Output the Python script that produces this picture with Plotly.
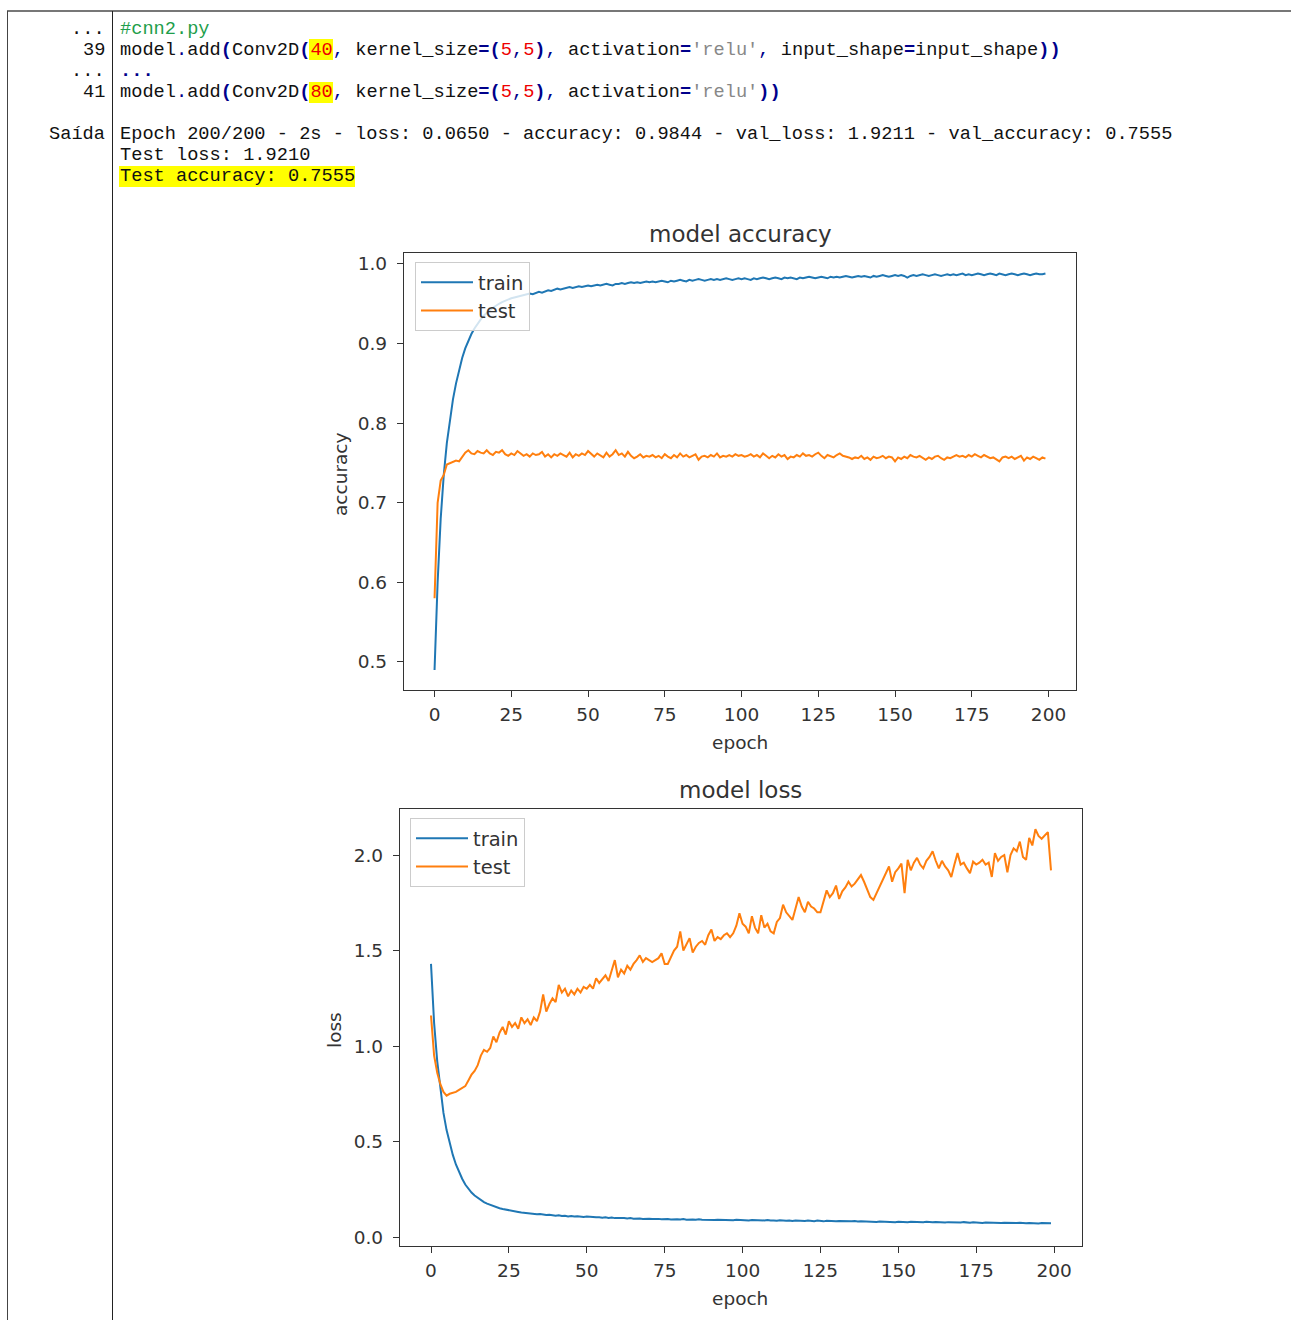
import plotly.graph_objects as go

# ---------------- data ----------------
epochs = list(range(200))

train_acc = [
    0.490, 0.600, 0.680, 0.735, 0.775, 0.805, 0.830, 0.850, 0.867, 0.882,
    0.894, 0.904, 0.912, 0.919, 0.925, 0.930, 0.935, 0.939, 0.942, 0.945,
    0.948, 0.950, 0.952, 0.954, 0.955, 0.957, 0.958, 0.959, 0.960, 0.961,
    0.962, 0.963, 0.962, 0.964, 0.965, 0.964, 0.966, 0.967, 0.966, 0.968,
    0.969, 0.968, 0.969, 0.970, 0.971, 0.970, 0.971, 0.972, 0.971, 0.972,
    0.973, 0.972, 0.973, 0.974, 0.973, 0.974, 0.975, 0.974, 0.973, 0.975,
    0.975, 0.976, 0.975, 0.976, 0.977, 0.976, 0.977, 0.976, 0.977, 0.978,
    0.977, 0.978, 0.977, 0.978, 0.979, 0.978, 0.977, 0.979, 0.978, 0.979,
    0.980, 0.979, 0.978, 0.980, 0.979, 0.980, 0.981, 0.980, 0.979, 0.980,
    0.981, 0.980, 0.981, 0.980, 0.981, 0.982, 0.981, 0.980, 0.981, 0.982,
    0.981, 0.982, 0.981, 0.980, 0.982, 0.981, 0.982, 0.983, 0.982, 0.981,
    0.982, 0.983, 0.982, 0.981, 0.983, 0.982, 0.983, 0.982, 0.981, 0.983,
    0.982, 0.983, 0.984, 0.983, 0.982, 0.983, 0.984, 0.983, 0.982, 0.984,
    0.983, 0.984, 0.983, 0.984, 0.985, 0.984, 0.983, 0.984, 0.985, 0.984,
    0.985, 0.984, 0.983, 0.985, 0.984, 0.985, 0.986, 0.985, 0.984, 0.985,
    0.986, 0.985, 0.986, 0.985, 0.983, 0.985, 0.986, 0.985, 0.986, 0.987,
    0.986, 0.985, 0.986, 0.987, 0.986, 0.985, 0.986, 0.987, 0.986, 0.987,
    0.986, 0.987, 0.988, 0.986, 0.987, 0.986, 0.987, 0.988, 0.987, 0.986,
    0.987, 0.988, 0.987, 0.986, 0.988, 0.987, 0.986, 0.987, 0.988, 0.987,
    0.986, 0.987, 0.988, 0.987, 0.986, 0.987, 0.988, 0.987, 0.987, 0.988,
]

test_acc = [
    0.580, 0.700, 0.728, 0.735, 0.748, 0.750, 0.752, 0.753, 0.752, 0.758,
    0.763, 0.766, 0.762, 0.761, 0.765, 0.763, 0.762, 0.766, 0.762, 0.760,
    0.764, 0.763, 0.766, 0.761, 0.759, 0.762, 0.760, 0.765, 0.762, 0.759,
    0.761, 0.758, 0.762, 0.760, 0.761, 0.764, 0.758, 0.761, 0.757, 0.761,
    0.759, 0.762, 0.760, 0.758, 0.763, 0.757, 0.761, 0.759, 0.762, 0.760,
    0.765, 0.761, 0.758, 0.762, 0.760, 0.757, 0.763, 0.758, 0.761, 0.766,
    0.760, 0.762, 0.758, 0.764, 0.759, 0.756, 0.758, 0.761, 0.757, 0.759,
    0.758, 0.760, 0.757, 0.759, 0.756, 0.761, 0.758, 0.756, 0.760, 0.757,
    0.762, 0.758, 0.760, 0.757, 0.759, 0.761, 0.754, 0.758, 0.759, 0.757,
    0.760, 0.758, 0.762, 0.757, 0.759, 0.758, 0.760, 0.758, 0.761, 0.759,
    0.760, 0.758, 0.759, 0.761, 0.758, 0.760, 0.757, 0.762, 0.759, 0.756,
    0.759, 0.757, 0.761, 0.758, 0.760, 0.755, 0.758, 0.757, 0.760, 0.758,
    0.762, 0.759, 0.760, 0.758, 0.761, 0.763, 0.759, 0.756, 0.760, 0.758,
    0.757, 0.760, 0.762, 0.759, 0.758, 0.757, 0.755, 0.757, 0.756, 0.759,
    0.755, 0.757, 0.754, 0.758, 0.756, 0.757, 0.759, 0.756, 0.758, 0.757,
    0.752, 0.757, 0.755, 0.758, 0.756, 0.760, 0.758, 0.757, 0.759, 0.756,
    0.754, 0.757, 0.755, 0.758, 0.759, 0.756, 0.754, 0.757, 0.756, 0.758,
    0.760, 0.758, 0.759, 0.757, 0.760, 0.758, 0.761, 0.759, 0.757, 0.760,
    0.758, 0.756, 0.757, 0.755, 0.752, 0.757, 0.758, 0.756, 0.758, 0.755,
    0.757, 0.759, 0.753, 0.757, 0.755, 0.758, 0.756, 0.754, 0.757, 0.7555,
]

train_loss = [
    1.430, 1.120, 0.920, 0.770, 0.650, 0.560, 0.490, 0.430, 0.380, 0.340,
    0.305, 0.275, 0.252, 0.233, 0.217, 0.204, 0.193, 0.183, 0.175, 0.168,
    0.162, 0.156, 0.151, 0.147, 0.143, 0.139, 0.136, 0.133, 0.131, 0.128,
    0.126, 0.124, 0.125, 0.121, 0.119, 0.120, 0.117, 0.115, 0.116, 0.113,
    0.112, 0.114, 0.110, 0.111, 0.108, 0.110, 0.107, 0.109, 0.106, 0.105,
    0.107, 0.104, 0.105, 0.103, 0.104, 0.101, 0.103, 0.100, 0.102, 0.099,
    0.100, 0.098, 0.100, 0.097, 0.099, 0.096, 0.098, 0.097, 0.095, 0.097,
    0.096, 0.094, 0.096, 0.095, 0.093, 0.095, 0.094, 0.092, 0.094, 0.093,
    0.092, 0.094, 0.091, 0.093, 0.092, 0.090, 0.093, 0.091, 0.090, 0.092,
    0.091, 0.089, 0.091, 0.090, 0.092, 0.089, 0.090, 0.088, 0.090, 0.089,
    0.088, 0.090, 0.087, 0.089, 0.088, 0.086, 0.088, 0.087, 0.089, 0.086,
    0.087, 0.085, 0.088, 0.086, 0.085, 0.087, 0.084, 0.086, 0.085, 0.087,
    0.084, 0.086, 0.085, 0.083, 0.086, 0.084, 0.082, 0.085, 0.083, 0.084,
    0.082, 0.084, 0.083, 0.081, 0.083, 0.082, 0.084, 0.081, 0.083, 0.082,
    0.080, 0.082, 0.081, 0.079, 0.081, 0.080, 0.082, 0.079, 0.080, 0.078,
    0.080, 0.079, 0.081, 0.078, 0.080, 0.079, 0.077, 0.079, 0.078, 0.080,
    0.078, 0.077, 0.079, 0.077, 0.078, 0.076, 0.078, 0.077, 0.075, 0.077,
    0.076, 0.078, 0.076, 0.075, 0.077, 0.075, 0.076, 0.074, 0.076, 0.075,
    0.074, 0.076, 0.075, 0.073, 0.075, 0.074, 0.072, 0.074, 0.073, 0.075,
    0.073, 0.072, 0.074, 0.072, 0.073, 0.071, 0.073, 0.072, 0.071, 0.072,
]

test_loss = [
    1.160, 0.950, 0.860, 0.800, 0.760, 0.740, 0.750, 0.755, 0.760, 0.770,
    0.780, 0.790, 0.820, 0.850, 0.870, 0.900, 0.950, 0.980, 0.970, 0.990,
    1.050, 1.020, 1.070, 1.100, 1.060, 1.130, 1.100, 1.120, 1.090, 1.150,
    1.120, 1.140, 1.110, 1.150, 1.130, 1.180, 1.270, 1.180, 1.220, 1.250,
    1.230, 1.320, 1.280, 1.300, 1.260, 1.290, 1.270, 1.300, 1.280, 1.310,
    1.300, 1.320, 1.300, 1.355, 1.330, 1.350, 1.370, 1.340, 1.400, 1.450,
    1.360, 1.400, 1.380, 1.420, 1.400, 1.430, 1.450, 1.475, 1.440, 1.460,
    1.450, 1.440, 1.450, 1.460, 1.485, 1.430, 1.430, 1.470, 1.500, 1.520,
    1.600, 1.500, 1.530, 1.565, 1.490, 1.520, 1.540, 1.550, 1.530, 1.580,
    1.610, 1.550, 1.570, 1.560, 1.580, 1.590, 1.570, 1.590, 1.630, 1.695,
    1.640, 1.625, 1.590, 1.680, 1.620, 1.590, 1.685, 1.620, 1.640, 1.600,
    1.590, 1.650, 1.670, 1.740, 1.700, 1.680, 1.660, 1.720, 1.780, 1.730,
    1.700, 1.755, 1.730, 1.720, 1.700, 1.700, 1.760, 1.815, 1.780, 1.800,
    1.840, 1.770, 1.810, 1.830, 1.860, 1.835, 1.850, 1.870, 1.895, 1.860,
    1.820, 1.780, 1.765, 1.800, 1.840, 1.870, 1.905, 1.940, 1.860, 1.910,
    1.930, 1.955, 1.800, 1.975, 1.920, 1.960, 1.985, 1.950, 1.930, 1.970,
    1.990, 2.020, 1.970, 1.930, 1.970, 1.940, 1.920, 1.885, 1.950, 2.010,
    1.950, 1.960, 1.930, 1.905, 1.965, 1.950, 1.960, 1.975, 1.950, 1.960,
    1.885, 2.010, 1.970, 1.990, 2.000, 1.910, 2.000, 2.035, 2.020, 2.070,
    1.990, 1.975, 2.090, 2.050, 2.135, 2.100, 2.085, 2.100, 2.120, 1.920,
]

x_ticks = [0, 25, 50, 75, 100, 125, 150, 175, 200]
acc_ticks = [0.5, 0.6, 0.7, 0.8, 0.9, 1.0]
loss_ticks = [0.0, 0.5, 1.0, 1.5, 2.0]

# ---------------- page geometry ----------------
# body margin is removed by the post script, so figure pixels == page pixels
OFF = 0
W, H = 1291, 1320


def fx(p):
    return (p - OFF) / W


def fy(p):
    return 1 - (p - OFF) / H


BLUE = "#1f77b4"
ORANGE = "#ff7f0e"
INK = "#333333"
SANS = "DejaVu Sans"
MONO = "Liberation Mono"

fig = go.Figure()
fig.add_trace(go.Scatter(x=epochs, y=train_acc, mode="lines", name="train",
                         line=dict(color=BLUE, width=2), xaxis="x", yaxis="y",
                         legend="legend"))
fig.add_trace(go.Scatter(x=epochs, y=test_acc, mode="lines", name="test",
                         line=dict(color=ORANGE, width=2), xaxis="x", yaxis="y",
                         legend="legend"))
fig.add_trace(go.Scatter(x=epochs, y=train_loss, mode="lines", name="train",
                         line=dict(color=BLUE, width=2), xaxis="x2", yaxis="y2",
                         legend="legend2"))
fig.add_trace(go.Scatter(x=epochs, y=test_loss, mode="lines", name="test",
                         line=dict(color=ORANGE, width=2), xaxis="x2", yaxis="y2",
                         legend="legend2"))

axis_common = dict(showline=True, mirror=True, linecolor=INK, linewidth=1.3,
                   ticks="outside", ticklen=6, tickwidth=1.2, tickcolor=INK,
                   showgrid=False, zeroline=False,
                   tickfont=dict(family=SANS, size=18.5, color=INK))

legend_common = dict(xanchor="left", yanchor="top", itemwidth=52,
                     bgcolor="rgba(255,255,255,0.8)", bordercolor="#cccccc",
                     borderwidth=1, font=dict(family=SANS, size=19.5, color=INK))

layout = dict(
    width=W, height=H, margin=dict(l=0, r=0, t=0, b=0),
    paper_bgcolor="white", plot_bgcolor="white",
    showlegend=True,
    xaxis=dict(domain=[fx(404), fx(1076)], range=[-9.95, 208.95],
               tickvals=x_ticks, anchor="y", ticklabelstandoff=2, **axis_common),
    yaxis=dict(domain=[fy(690), fy(253)], range=[0.4648, 1.0138],
               tickvals=acc_ticks, tickformat=".1f", anchor="x",
               ticklabelstandoff=6, **axis_common),
    xaxis2=dict(domain=[fx(400), fx(1082)], range=[-9.95, 208.95],
                tickvals=x_ticks, anchor="y2", ticklabelstandoff=2, **axis_common),
    yaxis2=dict(domain=[fy(1246), fy(809)], range=[-0.047, 2.241],
                tickvals=loss_ticks, tickformat=".1f", anchor="x2",
                ticklabelstandoff=6, **axis_common),
    legend=dict(x=fx(415), y=fy(262), **legend_common),
    legend2=dict(x=fx(410), y=fy(818), **legend_common),
)
fig.update_layout(**layout)

annotations = []


def ann(text, x, y, size, family=SANS, xanchor="center", color=INK, angle=0):
    annotations.append(dict(text=text, x=fx(x), y=fy(y), xref="paper", yref="paper",
                            xanchor=xanchor, yanchor="middle", showarrow=False,
                            textangle=angle,
                            font=dict(family=family, size=size, color=color)))


# chart titles / axis labels
ann("model accuracy", 740, 234, 23)
ann("epoch", 740, 742, 18.5)
ann("accuracy", 340, 474, 18.5, angle=-90)
ann("model loss", 740, 790, 23)
ann("epoch", 740, 1298, 18.5)
ann("loss", 334, 1030, 18.5, angle=-90)

# code listing
NAVY = "#00008b"
RED = "#ee0000"
GRAY = "#888888"
GREEN = "#1f9e4c"
BLACK = "#111111"


def c(t, col, bold=False):
    s = f"<span style='color:{col}'>{t}</span>"
    return f"<b>{s}</b>" if bold else s


line39 = ("model" + c(".", NAVY) + "add" + c("(", NAVY, True) + "Conv2D" + c("(", NAVY, True)
          + c("40", RED) + c(", ", NAVY) + "kernel_size" + c("=", NAVY, True) + c("(", NAVY, True)
          + c("5", RED) + c(",", NAVY) + c("5", RED) + c(")", NAVY, True) + c(", ", NAVY)
          + "activation" + c("=", NAVY, True) + c("'relu'", GRAY) + c(", ", NAVY)
          + "input_shape" + c("=", NAVY, True) + "input_shape" + c("))", NAVY, True))
line41 = ("model" + c(".", NAVY) + "add" + c("(", NAVY, True) + "Conv2D" + c("(", NAVY, True)
          + c("80", RED) + c(", ", NAVY) + "kernel_size" + c("=", NAVY, True) + c("(", NAVY, True)
          + c("5", RED) + c(",", NAVY) + c("5", RED) + c(")", NAVY, True) + c(", ", NAVY)
          + "activation" + c("=", NAVY, True) + c("'relu'", GRAY) + c("))", NAVY, True))

code_lines = [
    (29, c("#cnn2.py", GREEN)),
    (50, line39),
    (71, c("...", NAVY, True)),
    (92, line41),
    (134, "Epoch 200/200 - 2s - loss: 0.0650 - accuracy: 0.9844 - val_loss: 1.9211 - val_accuracy: 0.7555"),
    (155, "Test loss: 1.9210"),
    (176, "Test accuracy: 0.7555"),
]
gutter = [(29, "..."), (50, "39"), (71, "..."), (92, "41"), (134, "Saída")]

MONO_SIZE = 18.67
for y, t in code_lines:
    ann(t, 118, y, MONO_SIZE, family=MONO, xanchor="left", color=BLACK)
for y, t in gutter:
    ann(t, 107, y, MONO_SIZE, family=MONO, xanchor="right", color=BLACK)

fig.update_layout(annotations=annotations)

# frame lines and yellow highlights
shapes = [
    dict(type="line", xref="paper", yref="paper", x0=fx(7), x1=fx(1291), y0=fy(11), y1=fy(11),
         line=dict(color="#777777", width=2)),
    dict(type="line", xref="paper", yref="paper", x0=fx(7.5), x1=fx(7.5), y0=fy(11), y1=fy(1320),
         line=dict(color="#444444", width=1)),
    dict(type="line", xref="paper", yref="paper", x0=fx(112.5), x1=fx(112.5), y0=fy(11), y1=fy(1320),
         line=dict(color="#222222", width=1)),
]
for (x0, x1, y0, y1) in [(309, 333, 39, 60), (309, 333, 82, 103), (119, 355, 166, 187)]:
    shapes.append(dict(type="rect", xref="paper", yref="paper", layer="below",
                       x0=fx(x0), x1=fx(x1), y0=fy(y1), y1=fy(y0),
                       fillcolor="#ffff00", line=dict(width=0)))
fig.update_layout(shapes=shapes)

fig.write_html("out.html", config={"displayModeBar": False},
               post_script="document.body.style.margin='0';"
                           "document.body.style.overflow='hidden';")
